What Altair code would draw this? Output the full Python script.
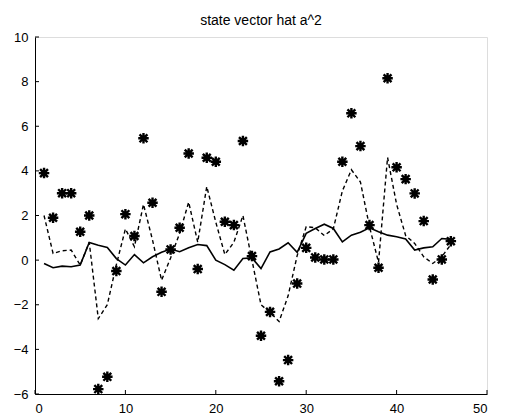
import altair as alt
import pandas as pd

t = list(range(1, 47))
observed = [3.9, 1.9, 3.0, 3.0, 1.27, 2.0, -5.78, -5.23, -0.49, 2.06,
            1.08, 5.46, 2.57, -1.42, 0.48, 1.45, 4.78, -0.40, 4.59, 4.41,
            1.72, 1.57, 5.34, 0.18, -3.39, -2.32, -5.43, -4.48, -1.05, 0.55,
            0.12, 0.03, 0.03, 4.41, 6.58, 5.11, 1.57, -0.34, 8.15, 4.16,
            3.63, 2.99, 1.75, -0.87, 0.03, 0.85]
filtered = [-0.15, -0.34, -0.27, -0.3, -0.22, 0.79, 0.67, 0.57, 0.07, -0.22,
            0.25, -0.12, 0.15, 0.35, 0.5, 0.38, 0.55, 0.7, 0.65, 0.0,
            -0.2, -0.45, 0.07, 0.1, -0.38, 0.37, 0.5, 0.78, 0.35, 1.2,
            1.42, 1.61, 1.42, 0.82, 1.12, 1.25, 1.45, 1.27, 1.12, 1.05,
            0.95, 0.45, 0.55, 0.6, 0.97, 0.93]
predicted = [2.0, 0.3, 0.42, 0.45, -0.22, 0.8, -2.62, -2.0, -0.2, 1.4,
             0.6, 2.5, 0.9, -0.9, 0.1, 1.2, 2.6, 0.8, 3.3, 1.7,
             0.25, 0.8, 2.0, 0.0, -2.0, -2.35, -2.75, -1.6, 0.2, 1.5,
             1.45, 1.1, 1.4, 3.1, 4.05, 3.5, 1.5, -0.1, 4.6, 2.5,
             1.1, 0.75, 0.15, -0.15, 0.15, 0.7]
x_ticks = [0, 10, 20, 30, 40, 50]
y_ticks = [-6, -4, -2, 0, 2, 4, 6, 8, 10]

W, H = 452, 357
df = pd.DataFrame({"t": t, "obs": observed, "filt": filtered, "pred": predicted})
xt = pd.DataFrame({"v": x_ticks})
yt = pd.DataFrame({"v": y_ticks})

FONT = "Liberation Sans"
xscale = alt.Scale(domain=[0, 50], nice=False)
yscale = alt.Scale(domain=[-6, 10], nice=False)

xaxis = alt.Axis(values=x_ticks, title=None, grid=False, tickSize=0, labelPadding=8,
                 domainColor="black", labelColor="black", labelFont=FONT, labelFontSize=13)
yaxis = alt.Axis(values=y_ticks, title=None, grid=False, tickSize=0, labelPadding=7,
                 domainColor="black", labelColor="black", labelFont=FONT, labelFontSize=13)

base = alt.Chart(df)

pred_line = base.mark_line(color="black", strokeWidth=1.4, strokeDash=[4, 3]).encode(
    x=alt.X("t:Q", scale=xscale, axis=xaxis),
    y=alt.Y("pred:Q", scale=yscale, axis=yaxis),
)
filt_line = base.mark_line(color="black", strokeWidth=1.6).encode(
    x=alt.X("t:Q", scale=xscale),
    y=alt.Y("filt:Q", scale=yscale),
)
asterisk = "M-1,0L1,0M0,-1L0,1M-0.75,-0.75L0.75,0.75M-0.75,0.75L0.75,-0.75"
points = base.mark_point(shape=asterisk, color="black", strokeWidth=2.4, size=110, filled=False, opacity=1).encode(
    x=alt.X("t:Q", scale=xscale),
    y=alt.Y("obs:Q", scale=yscale),
)
xtick_marks = alt.Chart(xt).mark_rule(color="black", strokeWidth=1).encode(
    x=alt.X("v:Q", scale=xscale), y=alt.value(H), y2=alt.value(H - 4)
)
ytick_marks = alt.Chart(yt).mark_rule(color="black", strokeWidth=1).encode(
    y=alt.Y("v:Q", scale=yscale), x=alt.value(0), x2=alt.value(4)
)

chart = alt.layer(pred_line, filt_line, points, xtick_marks, ytick_marks).properties(
    width=W,
    height=H,
    title=alt.TitleParams("state vector hat a^2", font=FONT, fontSize=14, fontWeight="normal",
                          color="black", offset=3),
    autosize=alt.AutoSizeParams(type="none"),
    padding={"left": 27, "top": 29, "right": 13, "bottom": 22},
).configure_view(stroke=None).configure(background="white")

chart.save("out.html", embed_options={"renderer": "svg", "actions": False})
